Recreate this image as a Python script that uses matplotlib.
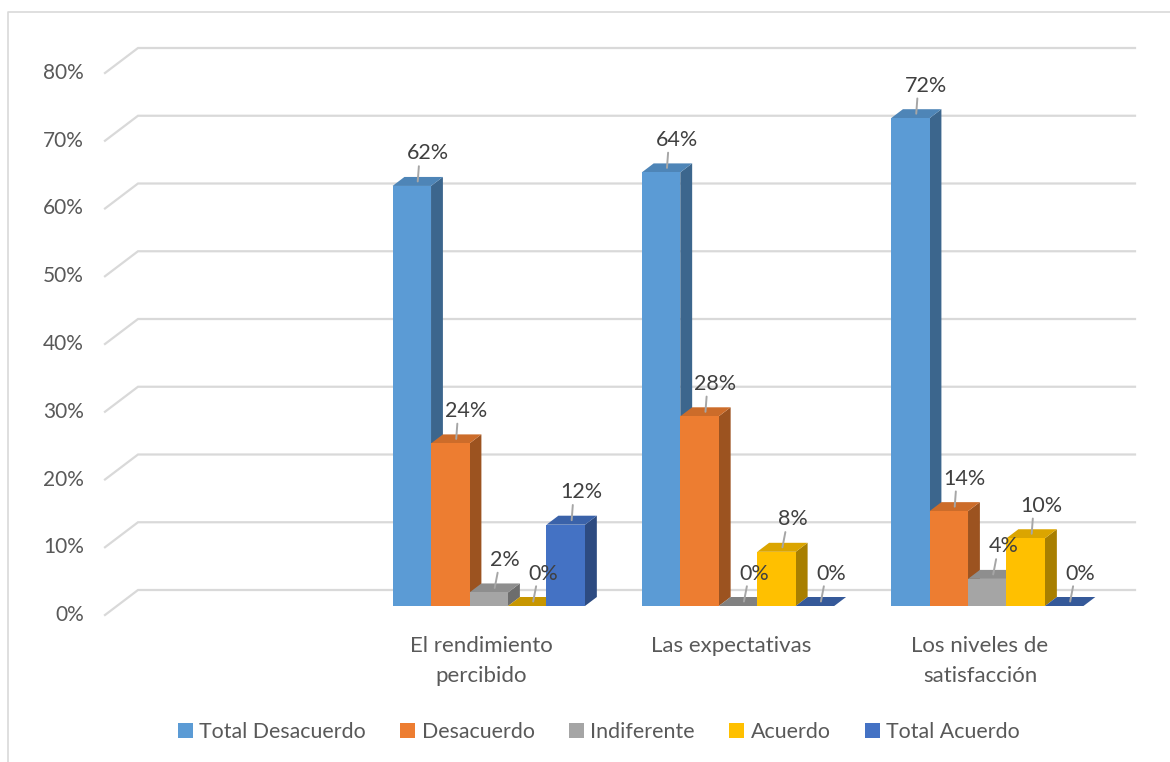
import matplotlib
matplotlib.use("Agg")
import matplotlib.pyplot as plt
from matplotlib.patches import Polygon, Rectangle
import matplotlib.colors as mcolors

# ---- data -------------------------------------------------------------
categories = ["", "El rendimiento\npercibido", "Las expectativas",
              "Los niveles de\nsatisfacción"]
series_names = ["Total Desacuerdo", "Desacuerdo", "Indiferente",
                "Acuerdo", "Total Acuerdo"]
total_desacuerdo = [None, 0.62, 0.64, 0.72]
desacuerdo = [None, 0.24, 0.28, 0.14]
indiferente = [None, 0.02, 0.00, 0.04]
acuerdo = [None, 0.00, 0.08, 0.10]
total_acuerdo = [None, 0.12, 0.00, 0.00]
y_ticks = [0.0, 0.1, 0.2, 0.3, 0.4, 0.5, 0.6, 0.7, 0.8]

series_values = [total_desacuerdo, desacuerdo, indiferente, acuerdo, total_acuerdo]
series_colors = ["#5B9BD5", "#ED7D31", "#A5A5A5", "#FFC000", "#4472C4"]

# ---- figure -----------------------------------------------------------
W, H, DPI = 1170, 762, 100
plt.rcParams["font.family"] = ["Lato", "DejaVu Sans"]
fig = plt.figure(figsize=(W / DPI, H / DPI), dpi=DPI)
fig.patch.set_facecolor("white")

# chart frame (top and left edges)
frame = fig.add_axes([0, 0, 1, 1])
frame.set_xlim(0, W)
frame.set_ylim(H, 0)
frame.axis("off")
frame.plot([8, 8, W], [H, 12, 12], color="#D9D9D9", lw=1.2)

# back wall of the 3-D plot area
left_px, right_px, bottom_px, top_px = 138, 1135, 590, 48
ax = fig.add_axes([left_px / W, (H - bottom_px) / H,
                   (right_px - left_px) / W, (bottom_px - top_px) / H])
n_cat = len(categories)
ax.set_xlim(0, n_cat)
ax.set_ylim(0, 0.8)
ax.axis("off")

# depth vector (back wall -> front edge) in data units
px_per_x = (right_px - left_px) / n_cat
px_per_y = (bottom_px - top_px) / 0.8
DX = -33 / px_per_x
DY = -25 / px_per_y

grid_c = "#D9D9D9"
text_c = "#595959"
for v in y_ticks:
    ax.plot([DX, 0, n_cat], [v + DY, v, v], color=grid_c, lw=1.6,
            clip_on=False, zorder=1, solid_joinstyle="miter")
    ax.annotate(f"{v * 100:.0f}%", xy=(DX, v + DY), xytext=(-21, 0),
                textcoords="offset pixels", ha="right", va="center",
                fontsize=15, color=text_c, annotation_clip=False)

# bar geometry
f_front, f_back = 0.64, 0.28
group_w = 0.772
bar_w = group_w / len(series_names)
group_shift = -2 / px_per_x


def shade(color, k):
    r, g, b = mcolors.to_rgb(color)
    return (r * k, g * k, b * k)


def pt(x, y, f):
    return (x + f * DX, y + f * DY)


z = 5
for ci in range(n_cat):
    for si, vals in enumerate(series_values):
        h = vals[ci]
        if h is None:
            continue
        col = series_colors[si]
        x0 = ci + 0.5 + group_shift - group_w / 2 + si * bar_w
        x1 = x0 + bar_w
        top = Polygon([pt(x0, h, f_front), pt(x1, h, f_front),
                       pt(x1, h, f_back), pt(x0, h, f_back)],
                      closed=True, facecolor=shade(col, 0.78 if h == 0 else 0.86),
                      edgecolor="none", clip_on=False, zorder=z)
        if h > 0:
            side = Polygon([pt(x1, 0, f_front), pt(x1, 0, f_back),
                            pt(x1, h, f_back), pt(x1, h, f_front)],
                           closed=True, facecolor=shade(col, 0.66),
                           edgecolor="none", clip_on=False, zorder=z)
            fx, fy = pt(x0, 0, f_front)
            front = Rectangle((fx, fy), bar_w, h, facecolor=col,
                              edgecolor="none", clip_on=False, zorder=z + 0.2)
            ax.add_patch(side)
            ax.add_patch(top)
            ax.add_patch(front)
        else:
            ax.add_patch(top)
        z += 0.5

        # value label with leader line
        fm = (f_front + f_back) / 2
        ax.annotate(f"{h * 100:.0f}%", xy=pt((x0 + x1) / 2, h, fm),
                    xytext=(10, 28), textcoords="offset pixels",
                    ha="center", va="center", fontsize=15.5, color="#404040",
                    annotation_clip=False, zorder=50,
                    arrowprops=dict(arrowstyle="-", color="#A6A6A6", lw=1.4,
                                    shrinkA=0, shrinkB=0, relpos=(0.3, 0.15)))

# category labels under the front edge
for ci, name in enumerate(categories):
    if not name:
        continue
    ax.annotate(name, xy=(ci + 0.5 + 0.8 * DX, DY), xytext=(-4, -21),
                textcoords="offset pixels", ha="center", va="top",
                fontsize=16, color=text_c, linespacing=1.6,
                annotation_clip=False)

# legend
handles = [Rectangle((0, 0), 1, 1, facecolor=c, edgecolor="none")
           for c in series_colors]
fig.legend(handles, series_names, loc="center",
           bbox_to_anchor=(599 / W, 1 - 732 / H), ncol=5, frameon=False,
           fontsize=15.4, labelcolor=text_c, handlelength=0.7,
           handleheight=0.7, handletextpad=0.3, columnspacing=1.6)

fig.savefig("out.png", dpi=DPI, facecolor="white")
